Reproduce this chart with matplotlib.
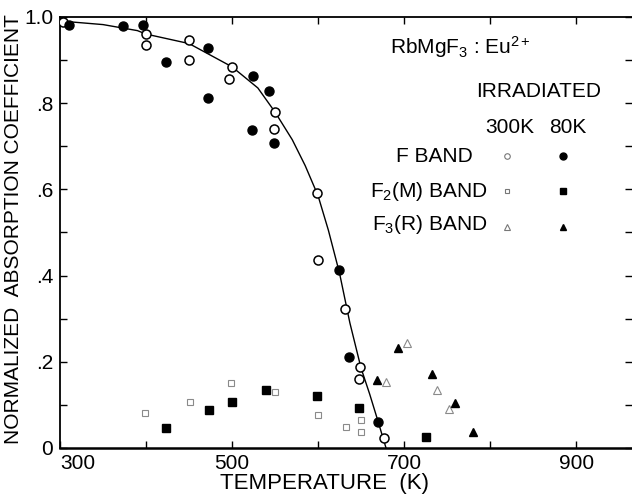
import matplotlib
matplotlib.use("Agg")
import matplotlib.pyplot as plt

plt.rcParams['font.family'] = ['Liberation Sans', 'DejaVu Sans']
plt.rcParams['mathtext.fontset'] = 'custom'
plt.rcParams['mathtext.rm'] = 'Liberation Sans'
plt.rcParams['mathtext.it'] = 'Liberation Sans:italic'
plt.rcParams['mathtext.default'] = 'regular'

# F band, irradiated at 300K (open circles)
f300_T = [304, 400, 400, 450, 450, 497, 500, 549, 550, 599, 600, 631, 648, 649, 677]
f300_A = [0.988, 0.960, 0.935, 0.947, 0.900, 0.856, 0.884, 0.739, 0.779, 0.591, 0.435, 0.323, 0.160, 0.188, 0.023]
# F band, irradiated at 80K (filled circles)
f80_T = [310, 373, 396, 423, 472, 472, 523, 524, 543, 549, 624, 636, 670]
f80_A = [0.981, 0.979, 0.982, 0.895, 0.928, 0.811, 0.737, 0.863, 0.828, 0.707, 0.412, 0.212, 0.060]
# F2(M) band
m300_T = [399, 451, 499, 550, 600, 633, 650, 650]
m300_A = [0.081, 0.107, 0.151, 0.130, 0.077, 0.049, 0.065, 0.037]
m80_T = [423, 473, 500, 540, 599, 648, 725]
m80_A = [0.046, 0.088, 0.107, 0.135, 0.121, 0.093, 0.026]
# F3(R) band
r300_T = [679, 703, 738, 752]
r300_A = [0.153, 0.244, 0.135, 0.090]
r80_T = [668, 693, 733, 759, 780]
r80_A = [0.158, 0.232, 0.172, 0.105, 0.037]
# Smooth guide curve through F band data
curve_T = [302, 350, 390, 400, 450, 500, 530, 550, 570, 585, 600, 612, 625, 637, 650, 660, 670, 679]
curve_A = [0.990, 0.982, 0.968, 0.960, 0.938, 0.884, 0.835, 0.779, 0.715, 0.655, 0.585, 0.505, 0.405, 0.290, 0.185, 0.125, 0.060, 0.0]

x_ticks = [300, 400, 500, 600, 700, 800, 900]
x_labels = ['300', '', '500', '', '700', '', '900']
y_ticks = [0, 0.1, 0.2, 0.3, 0.4, 0.5, 0.6, 0.7, 0.8, 0.9, 1.0]
y_labels = ['0', '', '.2', '', '.4', '', '.6', '', '.8', '', '1.0']

fig = plt.figure(figsize=(6.32, 4.95), dpi=100)
ax = fig.add_axes([0.095, 0.095, 0.905, 0.871])

ax.plot(curve_T, curve_A, color='black', lw=1.0, zorder=2)
ms = 6.5
ax.plot(f300_T, f300_A, 'o', ms=ms, mfc='white', mec='black', mew=1.1, zorder=3)
ax.plot(f80_T, f80_A, 'o', ms=ms, mfc='black', mec='black', zorder=3)
ax.plot(m300_T, m300_A, 's', ms=5, mfc='white', mec='#8a8a8a', mew=0.8, zorder=3)
ax.plot(m80_T, m80_A, 's', ms=5.5, mfc='black', mec='black', zorder=3)
ax.plot(r300_T, r300_A, '^', ms=5.5, mfc='white', mec='#8a8a8a', mew=0.8, zorder=3)
ax.plot(r80_T, r80_A, '^', ms=6, mfc='black', mec='black', zorder=3)

ax.set_xlim(300, 965)
ax.set_ylim(0, 1.0)
ax.set_xticks(x_ticks)
ax.set_xticklabels(x_labels)
ax.set_yticks(y_ticks)
ax.set_yticklabels(y_labels)
for lbl in ax.get_xticklabels():
    if lbl.get_text() == '300':
        lbl.set_horizontalalignment('left')
ax.tick_params(axis='both', direction='in', length=5, width=1, labelsize=15, pad=5,
               top=True, right=True)
ax.tick_params(axis='x', pad=4)
ax.spines['right'].set_visible(False)
for s in ['left', 'top']:
    ax.spines[s].set_linewidth(1.3)
ax.spines['bottom'].set_linewidth(1.8)

ax.set_xlabel('TEMPERATURE  (K)', fontsize=16)
ax.xaxis.set_label_coords(0.463, -0.058)
ax.set_ylabel('NORMALIZED  ABSORPTION COEFFICIENT', fontsize=15)
ax.yaxis.set_label_coords(-0.065, 0.508)

fs = 15
ax.text(765, 0.93, r'RbMgF$_3$ : Eu$^{2+}$', fontsize=fs, ha='center', va='center')
ax.text(856, 0.826, 'IRRADIATED', fontsize=fs, ha='center', va='center')
ax.text(823, 0.744, '300K', fontsize=fs, ha='center', va='center')
ax.text(890, 0.744, '80K', fontsize=fs, ha='center', va='center')
ax.text(780, 0.677, 'F BAND', fontsize=fs, ha='right', va='center')
ax.text(797, 0.595, r'F$_2$(M) BAND', fontsize=fs, ha='right', va='center')
ax.text(797, 0.519, r'F$_3$(R) BAND', fontsize=fs, ha='right', va='center')
ax.plot([820], [0.677], 'o', ms=4, mfc='white', mec='#777777', mew=0.8)
ax.plot([885], [0.677], 'o', ms=5, mfc='black', mec='black')
ax.plot([820], [0.595], 's', ms=3.5, mfc='white', mec='#777777', mew=0.8)
ax.plot([885], [0.595], 's', ms=4.5, mfc='black', mec='black')
ax.plot([820], [0.512], '^', ms=4, mfc='white', mec='#777777', mew=0.8)
ax.plot([885], [0.512], '^', ms=4.5, mfc='black', mec='black')

fig.savefig('out.png', dpi=100)
